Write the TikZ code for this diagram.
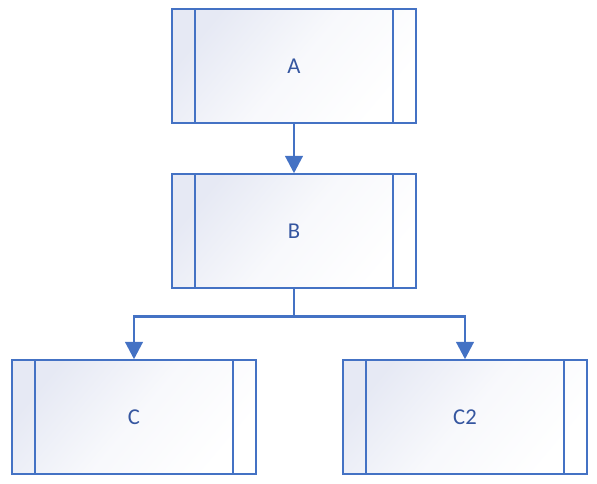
\documentclass[tikz,border=0pt]{standalone}
\usepackage{fontspec}
\setmainfont{Carlito}
\usepackage{tikz}
\usetikzlibrary{positioning,calc,arrows.meta}

\definecolor{linkblue}{HTML}{4472C4}
\definecolor{labelblue}{HTML}{3556A0}
\definecolor{boxtint}{HTML}{E6E9F4}

\tikzset{
  procbox/.style={draw=linkblue, line width=1.1pt,
    top color=boxtint, bottom color=white, middle color=white!70!boxtint,
    shading angle=50,
    minimum width=183pt, minimum height=85.5pt, inner sep=0pt,
    font=\fontsize{17pt}{19pt}\selectfont, text=labelblue,
    path picture={
      \draw[linkblue, line width=1.1pt]
        ([xshift=17.25pt]path picture bounding box.north west) --
        ([xshift=17.25pt]path picture bounding box.south west);
      \draw[linkblue, line width=1.1pt]
        ([xshift=-17.25pt]path picture bounding box.north east) --
        ([xshift=-17.25pt]path picture bounding box.south east);
    }},
  link/.style={draw=linkblue, line width=2.2pt,
    -{Triangle[length=13pt, width=13pt]}}
}

\begin{document}
\begin{tikzpicture}[x=0.75pt, y=-0.75pt]
    \useasboundingbox (0,0) rectangle (597,483);

    % boxes
    \node[procbox] (A)  at (294,66)  {A};
    \node[procbox] (B)  at (294,231) {B};
    \node[procbox] (C)  at (134,417) {C};
    \node[procbox] (C2) at (465,417) {C2};

    % connectors
    \draw[link] (A.south) -- (B.north);
    \coordinate (split) at ([yshift=-21pt]B.south);
    \draw[link] (B.south) -- (split) -| (C.north);
    \draw[link] (split) -| (C2.north);
\end{tikzpicture}
\end{document}
